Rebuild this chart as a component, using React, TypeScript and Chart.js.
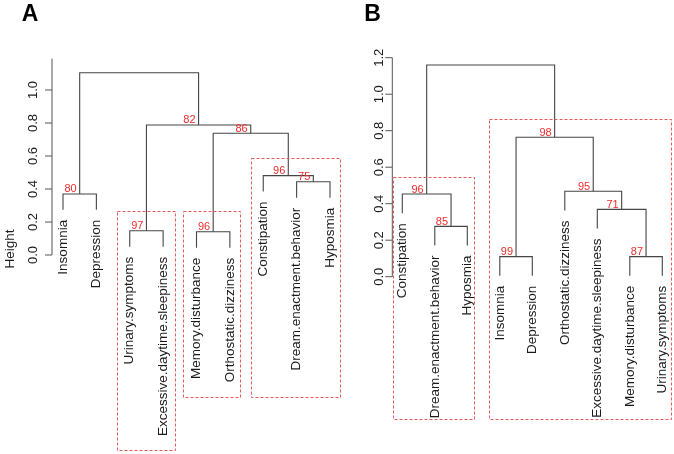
import React, { useEffect, useRef } from "react";
import { Chart, registerables } from "chart.js";

Chart.register(...registerables);

// ---------- Panel A data ----------
const leavesA = [
  "Insomnia",
  "Depression",
  "Urinary.symptoms",
  "Excessive.daytime.sleepiness",
  "Memory.disturbance",
  "Orthostatic.dizziness",
  "Constipation",
  "Dream.enactment.behavior",
  "Hyposmia",
];
// merges: negative = leaf (display order, 1-based), positive = earlier merge (1-based)
const mergeA = [[-5, -6], [-3, -4], [-1, -2], [-8, -9], [-7, 4], [1, 5], [2, 6], [3, 7]];
const heightA = [0.141, 0.147, 0.37, 0.444, 0.481, 0.738, 0.788, 1.105];
const auA = [96, 97, 80, 75, 96, 86, 82, null];
const ticksA = [0, 0.2, 0.4, 0.6, 0.8, 1.0];

// ---------- Panel B data ----------
const leavesB = [
  "Constipation",
  "Dream.enactment.behavior",
  "Hyposmia",
  "Insomnia",
  "Depression",
  "Orthostatic.dizziness",
  "Excessive.daytime.sleepiness",
  "Memory.disturbance",
  "Urinary.symptoms",
];
const mergeB = [[-4, -5], [-8, -9], [-2, -3], [-7, 2], [-1, 3], [-6, 4], [1, 6], [5, 7]];
const heightB = [0.11, 0.11, 0.276, 0.369, 0.453, 0.468, 0.764, 1.16];
const auB = [99, 87, 85, 71, 96, 95, 98, null];
const ticksB = [0, 0.2, 0.4, 0.6, 0.8, 1.0, 1.2];

// ---------- layout / style ----------
const FONT = "'Liberation Sans', Arial, Helvetica, sans-serif";
const LINE = "#454545";
const RED = "#ee2c2c";
const BOXRED = "#e85a5a";

type Box = { x0: number; x1: number; top: number; bottom: number };
type PanelCfg = {
  letter: string;
  letterX: number;
  leaves: string[];
  merge: number[][];
  height: number[];
  au: (number | null)[];
  ticks: number[];
  axisTop: number;
  axisOffset: number;
  tickLabelOffset: number;
  showYTitle: boolean;
  boxes: Box[];
  width: number;
  left: number;
  padding: { left: number; right: number; top: number; bottom: number };
};

const boxesA: Box[] = [
  { x0: 2.62, x1: 4.35, top: 0.267, bottom: -1.182 },
  { x0: 4.61, x1: 6.32, top: 0.267, bottom: -0.861 },
  { x0: 6.62, x1: 9.3, top: 0.588, bottom: -0.861 },
];
const boxesB: Box[] = [
  { x0: 0.72, x1: 3.22, top: 0.545, bottom: -0.781 },
  { x0: 3.67, x1: 9.26, top: 0.864, bottom: -0.781 },
];

const panelA: PanelCfg = {
  letter: "A",
  letterX: 30,
  leaves: leavesA,
  merge: mergeA,
  height: heightA,
  au: auA,
  ticks: ticksA,
  axisTop: 1.19,
  axisOffset: -11,
  tickLabelOffset: 18.5,
  showYTitle: true,
  boxes: boxesA,
  width: 350,
  left: 0,
  padding: { left: 63, right: 20, top: 57, bottom: 199 },
};
const panelB: PanelCfg = {
  letter: "B",
  letterX: 22.5,
  leaves: leavesB,
  merge: mergeB,
  height: heightB,
  au: auB,
  ticks: ticksB,
  axisTop: 1.2,
  axisOffset: -10,
  tickLabelOffset: 12.5,
  showYTitle: false,
  boxes: boxesB,
  width: 324,
  left: 350,
  padding: { left: 52.3, right: 11.7, top: 57.7, bottom: 177.3 },
};

function buildTree(cfg: PanelCfg) {
  const { merge, height } = cfg;
  const hang = 0.1 * (Math.max(...height) - Math.min(...height));
  const nodeX: number[] = [];
  const segs: { x: number; y: number }[][] = [];
  merge.forEach((m, i) => {
    const H = height[i];
    const pos = m.map((c) => (c < 0 ? -c : nodeX[c - 1]));
    const hs = m.map((c) => (c < 0 ? H - hang : height[c - 1]));
    nodeX[i] = (pos[0] + pos[1]) / 2;
    segs.push([
      { x: pos[0], y: hs[0] },
      { x: pos[0], y: H },
      { x: pos[1], y: H },
      { x: pos[1], y: hs[1] },
    ]);
  });
  const leafBottom: number[] = [];
  merge.forEach((m, i) => {
    m.forEach((c) => {
      if (c < 0) leafBottom[-c - 1] = height[i] - hang;
    });
  });
  return { nodeX, segs, leafBottom };
}

function makeChart(canvas: HTMLCanvasElement, cfg: PanelCfg) {
  const tree = buildTree(cfg);
  const overlay = {
    id: "dendroOverlay",
    afterDatasetsDraw(chart: any) {
      const ctx: CanvasRenderingContext2D = chart.ctx;
      const xs = chart.scales.x;
      const ys = chart.scales.y;
      ctx.save();
      // y axis
      const ax = xs.getPixelForValue(1) + cfg.axisOffset;
      ctx.strokeStyle = "#555";
      ctx.lineWidth = 1;
      ctx.beginPath();
      ctx.moveTo(ax, ys.getPixelForValue(0));
      ctx.lineTo(ax, ys.getPixelForValue(cfg.axisTop));
      ctx.stroke();
      ctx.fillStyle = "#1a1a1a";
      ctx.font = `13px ${FONT}`;
      cfg.ticks.forEach((t) => {
        const py = ys.getPixelForValue(t);
        ctx.beginPath();
        ctx.moveTo(ax - 7, py);
        ctx.lineTo(ax, py);
        ctx.stroke();
        ctx.save();
        ctx.translate(ax - cfg.tickLabelOffset, py);
        ctx.rotate(-Math.PI / 2);
        ctx.textAlign = "center";
        ctx.textBaseline = "middle";
        ctx.fillText(t.toFixed(1), 0, 0);
        ctx.restore();
      });
      ctx.font = `13.5px ${FONT}`;
      if (cfg.showYTitle) {
        ctx.save();
        ctx.translate(10, 249);
        ctx.rotate(-Math.PI / 2);
        ctx.textAlign = "center";
        ctx.textBaseline = "middle";
        ctx.fillText("Height", 0, 0);
        ctx.restore();
      }
      // leaf labels
      cfg.leaves.forEach((name, i) => {
        const px = xs.getPixelForValue(i + 1);
        const py = ys.getPixelForValue(tree.leafBottom[i]) + 10;
        ctx.save();
        ctx.translate(px, py);
        ctx.rotate(-Math.PI / 2);
        ctx.textAlign = "right";
        ctx.textBaseline = "middle";
        ctx.fillText(name, 0, 0);
        ctx.restore();
      });
      // AU values
      ctx.fillStyle = RED;
      ctx.font = `11px ${FONT}`;
      ctx.textAlign = "right";
      ctx.textBaseline = "alphabetic";
      cfg.au.forEach((v, i) => {
        if (v == null) return;
        const px = xs.getPixelForValue(tree.nodeX[i]);
        const py = ys.getPixelForValue(cfg.height[i]);
        ctx.fillText(String(v), px - 3, py - 1.5);
      });
      // dashed boxes
      ctx.strokeStyle = BOXRED;
      ctx.lineWidth = 1;
      ctx.setLineDash([3, 2]);
      cfg.boxes.forEach((b) => {
        const x0 = xs.getPixelForValue(b.x0);
        const x1 = xs.getPixelForValue(b.x1);
        const y0 = ys.getPixelForValue(b.top);
        const y1 = ys.getPixelForValue(b.bottom);
        ctx.strokeRect(Math.round(x0) + 0.5, Math.round(y0) + 0.5, Math.round(x1 - x0), Math.round(y1 - y0));
      });
      ctx.setLineDash([]);
      // panel letter
      ctx.fillStyle = "#000";
      ctx.font = `bold 23px ${FONT}`;
      ctx.textAlign = "center";
      ctx.textBaseline = "middle";
      ctx.fillText(cfg.letter, cfg.letterX, 15);
      ctx.restore();
    },
  };

  return new Chart(canvas, {
    type: "line",
    data: {
      datasets: tree.segs.map((s) => ({
        data: s,
        borderColor: LINE,
        borderWidth: 1.1,
        pointRadius: 0,
        fill: false,
        tension: 0,
        clip: false as any,
      })),
    },
    options: {
      animation: false,
      responsive: false,
      maintainAspectRatio: false,
      events: [],
      layout: { padding: cfg.padding },
      scales: {
        x: { type: "linear", min: 1, max: 9, display: false },
        y: { type: "linear", min: 0, max: 1.2, display: false },
      },
      plugins: { legend: { display: false }, tooltip: { enabled: false } },
    },
    plugins: [overlay],
  } as any);
}

function Panel({ cfg }: { cfg: PanelCfg }) {
  const ref = useRef<HTMLCanvasElement | null>(null);
  useEffect(() => {
    if (!ref.current) return;
    const chart = makeChart(ref.current, cfg);
    return () => chart.destroy();
  }, [cfg]);
  return (
    <canvas
      ref={ref}
      width={cfg.width}
      height={454}
      style={{ position: "absolute", left: cfg.left, top: 0, width: cfg.width, height: 454 }}
    />
  );
}

export default function App() {
  return (
    <div
      style={{
        position: "fixed",
        left: 0,
        top: 0,
        width: 674,
        height: 454,
        background: "#fff",
        overflow: "hidden",
      }}
    >
      <Panel cfg={panelA} />
      <Panel cfg={panelB} />
    </div>
  );
}
